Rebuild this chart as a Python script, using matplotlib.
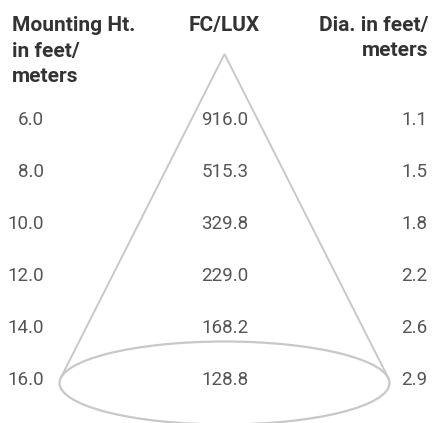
import numpy as np
import matplotlib
matplotlib.use("Agg")
import matplotlib.pyplot as plt
from matplotlib.patches import Ellipse

heights = ["6.0", "8.0", "10.0", "12.0", "14.0", "16.0"]
fc_lux = ["916.0", "515.3", "329.8", "229.0", "168.2", "128.8"]
diameters = ["1.1", "1.5", "1.8", "2.2", "2.6", "2.9"]
header_left = ["Mounting Ht.", "in feet/", "meters"]
header_mid = ["FC/LUX"]
header_right = ["Dia. in feet/", "meters"]

W, H = 432, 423
fig = plt.figure(figsize=(W / 100, H / 100), dpi=100)
ax = fig.add_axes([0, 0, 1, 1])
ax.set_xlim(0, W)
ax.set_ylim(H, 0)
ax.axis("off")

line_color = "#c8c8c8"
# cone
cx, cy, a, b = 224.5, 383, 165, 41.5
apex_y = 54
ell = Ellipse((cx, cy), 2 * a, 2 * b, fill=False, edgecolor=line_color, lw=1.6)
ax.add_patch(ell)
h = cy - apex_y
ty = b * b / h
tx = a * np.sqrt(1 - (ty / b) ** 2)
ax.plot([cx - tx, cx, cx + tx], [cy - ty, apex_y, cy - ty], color=line_color, lw=1.4,
        solid_joinstyle="miter")

hfont = dict(family="Roboto", fontweight="bold", fontsize=15, color="#333333")
for i, t in enumerate(header_left):
    ax.text(12, 31 + 25.5 * i, t, ha="left", va="baseline", **hfont)
for i, t in enumerate(header_mid):
    ax.text(224, 31 + 25.5 * i, t, ha="center", va="baseline", **hfont)
for i, t in enumerate(header_right):
    ax.text(428, 31 + 25.5 * i, t, ha="right", va="baseline", **hfont)

vfont = dict(family="Roboto", fontweight="normal", fontsize=13.5, color="#555555")
for i, (hh, f, d) in enumerate(zip(heights, fc_lux, diameters)):
    y = 125 + 52 * i
    ax.text(44, y, hh, ha="right", va="baseline", **vfont)
    ax.text(225, y, f, ha="center", va="baseline", **vfont)
    ax.text(427, y, d, ha="right", va="baseline", **vfont)

fig.savefig("out.png", dpi=100)
